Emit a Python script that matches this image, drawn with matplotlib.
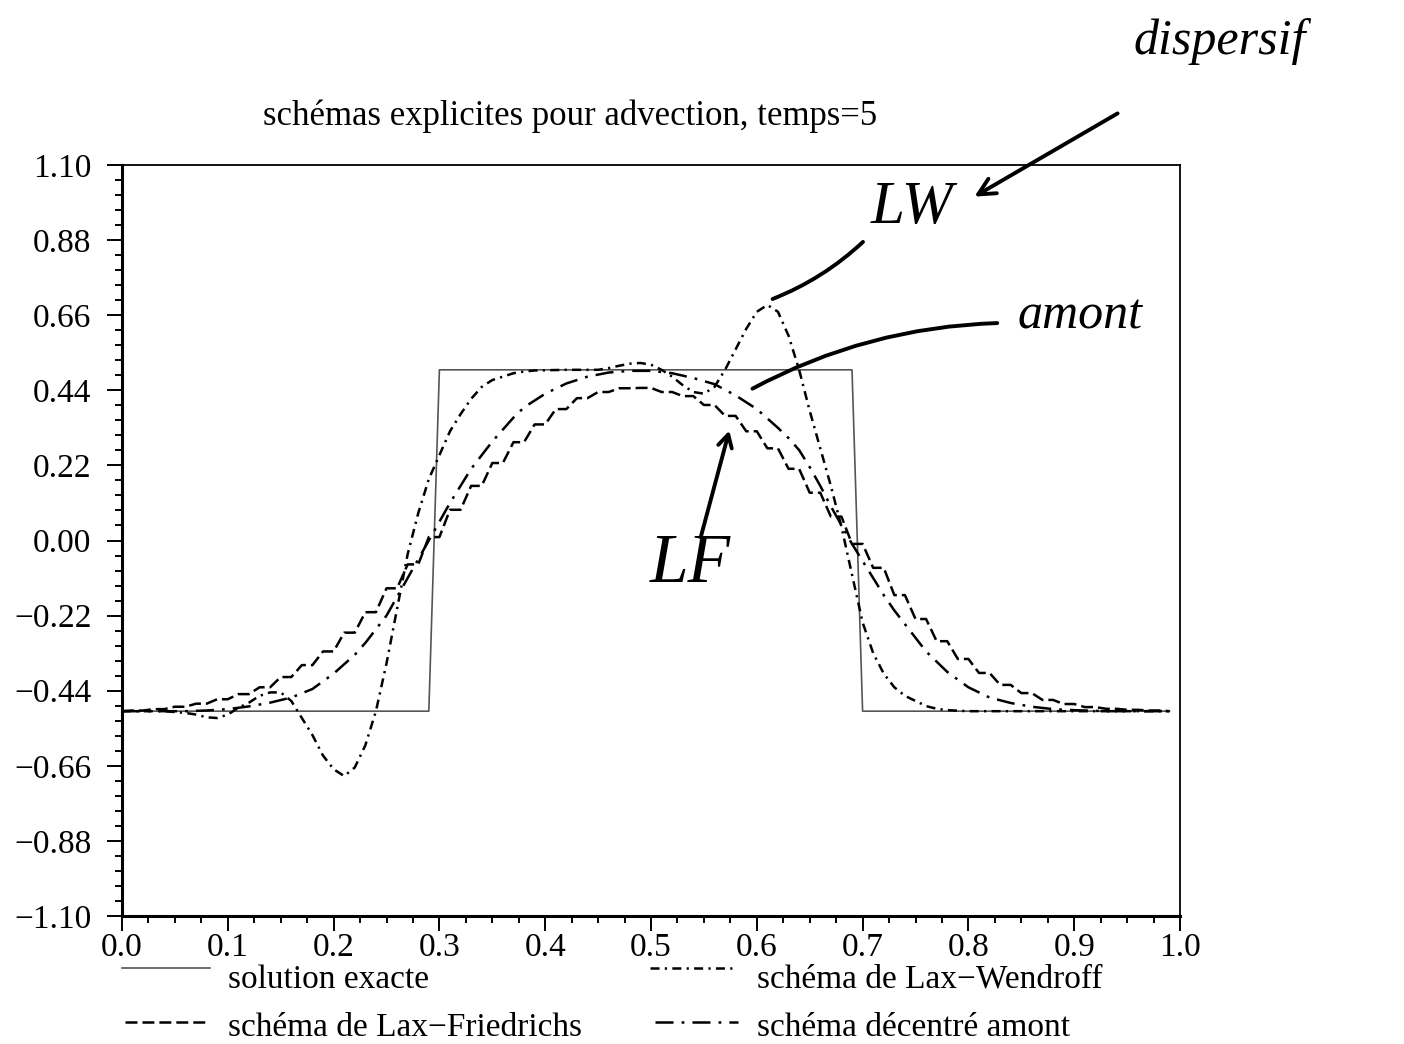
import matplotlib
matplotlib.use("Agg")
import matplotlib.pyplot as plt
from matplotlib.ticker import FixedLocator, MultipleLocator, FuncFormatter
import numpy as np

plt.rcParams['font.family'] = ['Liberation Serif', 'DejaVu Serif']
plt.rcParams['lines.scale_dashes'] = False

TITRE = "schémas explicites pour advection, temps=5"

# solution exacte (creneau)
x_exacte = [0.0, 0.29, 0.30, 0.69, 0.70, 0.99]
u_exacte = [-0.5, -0.5, 0.5, 0.5, -0.5, -0.5]

# schema de Lax-Wendroff
x_lw = [0.00, 0.04, 0.06, 0.07, 0.08, 0.09, 0.10, 0.11, 0.12, 0.13, 0.14, 0.15,
        0.16, 0.17, 0.18, 0.19, 0.20, 0.21, 0.22, 0.23, 0.24, 0.25, 0.26, 0.27,
        0.28, 0.29, 0.30, 0.31, 0.32, 0.33, 0.34, 0.35, 0.36, 0.37, 0.38, 0.39,
        0.42, 0.45, 0.46, 0.47, 0.48, 0.49, 0.50, 0.51, 0.52, 0.53, 0.54, 0.55,
        0.56, 0.57, 0.58, 0.59, 0.60, 0.61, 0.62, 0.63, 0.64, 0.65, 0.66, 0.67,
        0.68, 0.69, 0.70, 0.71, 0.72, 0.73, 0.74, 0.75, 0.76, 0.77, 0.78, 0.80,
        0.99]
u_lw = [-0.5, -0.5, -0.505, -0.51, -0.518, -0.52, -0.51, -0.49, -0.475, -0.455, -0.445, -0.445,
        -0.47, -0.52, -0.57, -0.63, -0.67, -0.69, -0.665, -0.6, -0.5, -0.36, -0.2, -0.04,
        0.08, 0.18, 0.25, 0.32, 0.37, 0.415, 0.45, 0.47, 0.48, 0.49, 0.495, 0.498,
        0.50, 0.50, 0.505, 0.512, 0.518, 0.52, 0.515, 0.50, 0.48, 0.455, 0.435, 0.43,
        0.45, 0.50, 0.56, 0.62, 0.67, 0.69, 0.67, 0.60, 0.50, 0.38, 0.27, 0.16,
        0.04, -0.10, -0.24, -0.33, -0.39, -0.43, -0.455, -0.47, -0.485, -0.493, -0.497, -0.5,
        -0.5]

# schema de Lax-Friedrichs (valeurs par paires -> escalier)
x_lf = np.round(np.arange(100) * 0.01, 2)
u_lf = [-0.5,
        -0.498, -0.498, -0.494, -0.494, -0.487, -0.487, -0.478, -0.478,
        -0.465, -0.465, -0.45, -0.45, -0.43, -0.43, -0.40, -0.40,
        -0.365, -0.365, -0.325, -0.325, -0.27, -0.27, -0.21, -0.21,
        -0.14, -0.14, -0.07, -0.07, 0.01, 0.01, 0.09, 0.09,
        0.16, 0.16, 0.227, 0.227, 0.288, 0.288, 0.34, 0.34,
        0.385, 0.385, 0.417, 0.417, 0.435, 0.435, 0.446, 0.446,
        0.447, 0.447, 0.435, 0.435, 0.423, 0.423, 0.397, 0.397,
        0.365, 0.365, 0.32, 0.32, 0.27, 0.27, 0.21, 0.21,
        0.14, 0.14, 0.07, 0.07, -0.01, -0.01, -0.08, -0.08,
        -0.16, -0.16, -0.23, -0.23, -0.295, -0.295, -0.347, -0.347,
        -0.388, -0.388, -0.423, -0.423, -0.447, -0.447, -0.467, -0.467,
        -0.479, -0.479, -0.488, -0.488, -0.493, -0.493, -0.496, -0.496,
        -0.498, -0.498, -0.5]

# schema decentre amont
x_amont = [0.00, 0.06, 0.08, 0.10, 0.12, 0.14, 0.16, 0.18, 0.20, 0.22, 0.23, 0.24,
           0.25, 0.26, 0.27, 0.28, 0.29, 0.30, 0.31, 0.32, 0.33, 0.34, 0.35, 0.36,
           0.37, 0.38, 0.39, 0.40, 0.42, 0.44, 0.46, 0.48, 0.50, 0.52, 0.54, 0.56,
           0.58, 0.60, 0.62, 0.63, 0.64, 0.65, 0.66, 0.67, 0.68, 0.69, 0.70, 0.71,
           0.72, 0.73, 0.74, 0.75, 0.76, 0.78, 0.80, 0.82, 0.84, 0.86, 0.88, 0.90,
           0.93, 0.99]
u_amont = [-0.5, -0.5, -0.498, -0.494, -0.486, -0.475, -0.46, -0.435, -0.39, -0.335, -0.30, -0.26,
           -0.22, -0.165, -0.11, -0.055, 0.0, 0.055, 0.11, 0.16, 0.21, 0.25, 0.29, 0.325,
           0.36, 0.39, 0.41, 0.43, 0.46, 0.48, 0.492, 0.497, 0.497, 0.49, 0.476, 0.458,
           0.425, 0.385, 0.33, 0.30, 0.265, 0.215, 0.16, 0.10, 0.045, -0.01, -0.06, -0.11,
           -0.16, -0.205, -0.245, -0.285, -0.325, -0.385, -0.43, -0.46, -0.476, -0.487, -0.494, -0.497,
           -0.5, -0.5]

STYLE_EXACTE = dict(color='#555555', lw=1.2, linestyle='-')
STYLE_LW = dict(color='black', lw=1.8, linestyle=(0, (6.5, 3.8, 1.6, 3.8)))
STYLE_LF = dict(color='black', lw=1.8, linestyle=(0, (8.6, 3.6)))
STYLE_AMONT = dict(color='black', lw=1.8, linestyle=(0, (13, 5.8, 2, 5.8)))

fig = plt.figure(figsize=(14.04, 10.44), dpi=100)
ax = fig.add_axes([122 / 1404, 1 - 916 / 1044, (1180 - 122) / 1404, (916 - 165) / 1044])

ax.plot(x_exacte, u_exacte, **STYLE_EXACTE)
ax.plot(x_lw, u_lw, **STYLE_LW)
ax.plot(x_lf, u_lf, **STYLE_LF)
ax.plot(x_amont, u_amont, **STYLE_AMONT)

ax.set_xlim(0, 1)
ax.set_ylim(-1.1, 1.1)

ax.yaxis.set_major_locator(FixedLocator(np.linspace(-1.1, 1.1, 11)))
ax.yaxis.set_minor_locator(MultipleLocator(0.044))
ax.xaxis.set_major_locator(MultipleLocator(0.1))
ax.xaxis.set_minor_locator(MultipleLocator(0.025))
ax.yaxis.set_major_formatter(FuncFormatter(lambda v, p: ("%.2f" % v).replace('-', '\u2212')))
ax.xaxis.set_major_formatter(FuncFormatter(lambda v, p: "%.1f" % v))

ax.tick_params(axis='both', which='major', direction='out', length=11, width=1.4, labelsize=24)
ax.tick_params(axis='both', which='minor', direction='out', length=5, width=1.4)
ax.tick_params(axis='y', which='major', pad=11)
ax.tick_params(axis='x', which='major', pad=1)

for s in ['left', 'bottom']:
    ax.spines[s].set_linewidth(2.2)
for s in ['top', 'right']:
    ax.spines[s].set_linewidth(1.3)

# calque en pixels pour titre, legende et annotations manuscrites
ov = fig.add_axes([0, 0, 1, 1])
ov.set_xlim(0, 1404)
ov.set_ylim(1044, 0)
ov.axis('off')

ov.text(263, 125, TITRE, fontsize=25, va='baseline', ha='left')

ov.plot([122, 210], [968, 968], **STYLE_EXACTE)
ov.text(228, 988, "solution exacte", fontsize=24, va='baseline')
ov.plot([650, 735], [968, 968], **STYLE_LW)
ov.text(757, 988, "schéma de Lax\u2212Wendroff", fontsize=24, va='baseline')
ov.plot([125, 208], [1022, 1022], **STYLE_LF)
ov.text(228, 1036, "schéma de Lax\u2212Friedrichs", fontsize=24, va='baseline')
ov.plot([655, 738], [1022, 1022], **STYLE_AMONT)
ov.text(757, 1036, "schéma décentré amont", fontsize=24, va='baseline')

# annotations a la main
main = dict(color='black', style='italic', ha='center', va='center')
ov.text(1220, 42, "dispersif", fontsize=36, **main)
ov.text(912, 208, "LW", fontsize=44, **main)
ov.text(1080, 316, "amont", fontsize=36, **main)
ov.text(690, 565, "LF", fontsize=50, **main)

ov.annotate('', xy=(770, 300), xytext=(865, 240),
            arrowprops=dict(arrowstyle='-', lw=2.8, connectionstyle='arc3,rad=-0.1'))
ov.annotate('', xy=(972, 198), xytext=(1120, 112),
            arrowprops=dict(arrowstyle='->,head_length=1.2,head_width=0.6', lw=2.8))
ov.annotate('', xy=(750, 390), xytext=(1000, 323),
            arrowprops=dict(arrowstyle='-', lw=2.8, connectionstyle='arc3,rad=0.12'))
ov.annotate('', xy=(730, 428), xytext=(700, 540),
            arrowprops=dict(arrowstyle='->,head_length=0.9,head_width=0.5', lw=2.8))

fig.savefig("out.png", dpi=100)
